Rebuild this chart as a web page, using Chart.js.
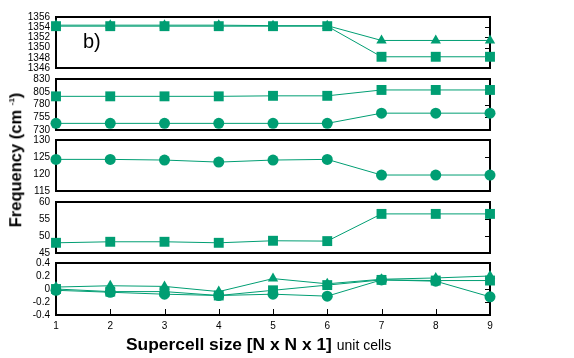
<!DOCTYPE html>
<html>
<head>
<meta charset="utf-8">
<script src="https://cdn.jsdelivr.net/npm/chart.js@4/dist/chart.umd.min.js"></script>
<style>
  html, body { margin: 0; padding: 0; background: #fff; }
  #wrap { position: relative; width: 574px; height: 358px; overflow: hidden; font-family: "Liberation Sans", Arial, sans-serif; }
  #wrap canvas { position: absolute; left: 0; }
  .txt { position: absolute; white-space: nowrap; color: #000; }
</style>
</head>
<body>
<div id="wrap">
  <canvas id="p1" width="574" height="91" style="top:-3px"></canvas>
  <canvas id="p2" width="574" height="91" style="top:59px"></canvas>
  <canvas id="p3" width="574" height="91" style="top:120px"></canvas>
  <canvas id="p4" width="574" height="91" style="top:182px"></canvas>
  <canvas id="p5" width="574" height="92" style="top:243px"></canvas>
  <div class="txt" style="left:83px; top:31px; font-size:20px; line-height:20px;">b)</div>
  <div class="txt" style="left:126px; top:336px; font-size:17.4px; line-height:17px;"><b>Supercell size [N x N x 1]</b> <span style="font-size:14px;">unit cells</span></div>
  <div class="txt" style="left:14px; top:160px; font-size:16.5px; line-height:16.5px; font-weight:bold; transform: translate(-50%, -50%) rotate(-90deg);">Frequency (cm <sup style="font-size:8px; vertical-align: 7px;">-1</sup>)</div>
</div>
<script>
const supercell = [1, 2, 3, 4, 5, 6, 7, 8, 9];

// panel 1 (~1350 cm-1)
const p1Squares   = [1354.2, 1354.2, 1354.2, 1354.2, 1354.2, 1354.2, 1348.2, 1348.2, 1348.2];
const p1Triangles = [1354.4, 1354.4, 1354.4, 1354.4, 1354.3, 1354.3, 1351.4, 1351.4, 1351.4];
// panel 2 (~780 cm-1)
const p2Squares = [796, 796, 796, 796, 797, 797, 808.5, 808.5, 808.5];
const p2Circles = [743, 743, 743, 743, 743, 743, 763, 763, 763];
// panel 3 (~120 cm-1)
const p3Circles = [124.3, 124.3, 124.1, 123.5, 124.1, 124.3, 119.7, 119.7, 119.7];
// panel 4 (~50 cm-1)
const p4Squares = [48.0, 48.3, 48.3, 48.0, 48.6, 48.5, 56.5, 56.5, 56.5];
// panel 5 (~0 cm-1)
const p5Triangles = [0.03, 0.05, 0.04, -0.04, 0.16, 0.08, 0.15, 0.17, 0.20];
const p5Squares   = [0.00, -0.04, -0.04, -0.10, -0.02, 0.06, 0.14, 0.13, 0.13];
const p5Circles   = [-0.02, -0.05, -0.08, -0.10, -0.08, -0.11, 0.14, 0.12, -0.12];

const GREEN = "rgb(0,158,115)";
const tickFont = { family: "Liberation Sans", size: 10 };

const series = (values, style) => ({
    data: values.map((v, i) => ({ x: supercell[i], y: v })),
    borderColor: GREEN,
    backgroundColor: GREEN,
    borderWidth: 1,
    pointStyle: style,
    pointRadius: style === "rect" ? 7 : (style === "triangle" ? 6 : 5.5),
    pointBorderWidth: 0,
    pointHoverRadius: 0,
    tension: 0,
    clip: false,
});

const frame = {
    id: "frame",
    beforeDatasetsDraw(chart) {
        const ctx = chart.ctx;
        const a = chart.chartArea;
        ctx.save();
        ctx.strokeStyle = "#000";
        ctx.lineWidth = 1;
        const ys = chart.scales.y;
        ys.ticks.forEach(t => {
            const y = Math.round(ys.getPixelForValue(t.value)) + 0.5;
            ctx.beginPath();
            ctx.moveTo(a.right, y);
            ctx.lineTo(a.right - 5, y);
            ctx.stroke();
        });
        if (chart.options.scales.x.display) {
            const xs = chart.scales.x;
            xs.ticks.forEach(t => {
                const x = Math.round(xs.getPixelForValue(t.value)) + 0.5;
                ctx.beginPath();
                ctx.moveTo(x, a.bottom);
                ctx.lineTo(x, a.bottom - 6);
                ctx.stroke();
            });
        }
        ctx.lineWidth = 2;
        ctx.strokeRect(a.left, a.top, a.right - a.left, a.bottom - a.top);
        ctx.restore();
    }
};

// chart area is pinned by the layout padding: 56px of y axis on the left,
// 84px free on the right, 20px above and below (x axis row on the last panel)
function panel(id, datasets, yMin, yMax, yStep, showX) {
    return new Chart(document.getElementById(id), {
        type: "line",
        data: { datasets },
        plugins: [frame],
        options: {
            responsive: false,
            devicePixelRatio: 1,
            animation: false,
            events: [],
            layout: { padding: { left: 0, right: 84, top: 20, bottom: showX ? 0 : 20 } },
            plugins: { legend: { display: false }, tooltip: { enabled: false } },
            scales: {
                x: {
                    type: "linear",
                    min: 1,
                    max: 9,
                    display: showX,
                    grid: { display: false, drawTicks: false },
                    border: { display: false },
                    ticks: { stepSize: 1, color: "#000", font: tickFont, padding: 5, maxRotation: 0 },
                    afterFit: s => { s.height = showX ? 20 : 0; },
                },
                y: {
                    min: yMin,
                    max: yMax,
                    grid: { display: false, drawTicks: false },
                    border: { display: false },
                    ticks: {
                        stepSize: yStep,
                        autoSkip: false,
                        color: "#000",
                        font: tickFont,
                        padding: 6,
                        format: { useGrouping: false },
                    },
                    afterFit: s => { s.width = 56; },
                }
            }
        }
    });
}

panel("p1", [series(p1Squares, "rect"), series(p1Triangles, "triangle")], 1346, 1356, 2, false);
panel("p2", [series(p2Squares, "rect"), series(p2Circles, "circle")], 730, 830, 25, false);
panel("p3", [series(p3Circles, "circle")], 115, 130, 5, false);
panel("p4", [series(p4Squares, "rect")], 45, 60, 5, false);
panel("p5", [series(p5Squares, "rect"), series(p5Triangles, "triangle"), series(p5Circles, "circle")], -0.4, 0.4, 0.2, true);
</script>
</body>
</html>
